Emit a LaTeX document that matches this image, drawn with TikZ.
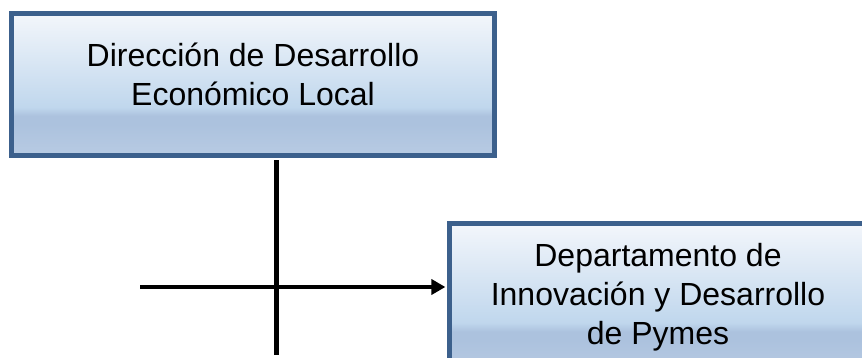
\documentclass[tikz,border=0pt]{standalone}
\usepackage{fontspec}
\setmainfont{Liberation Sans}
\usetikzlibrary{arrows.meta,positioning,calc}
\definecolor{boxborder}{RGB}{60,96,140}
\definecolor{shadetop}{RGB}{243,246,251}
\definecolor{shademid}{RGB}{192,215,237}
\definecolor{shadeband}{RGB}{172,194,222}
\definecolor{shadebottom}{RGB}{184,203,227}
\pgfdeclareverticalshading{orgshade}{100bp}{color(0bp)=(shadebottom); color(25bp)=(shadebottom); color(36bp)=(shadeband); color(39bp)=(shadeband); color(42bp)=(shademid); color(75bp)=(shadetop); color(100bp)=(shadetop)}

\begin{document}
\begin{tikzpicture}[x=0.5pt,y=-0.5pt,
    orgbox/.style={draw=boxborder,line width=2.5pt,shading=orgshade,inner sep=0pt},
    orgtext/.style={align=center,inner sep=0pt,font=\fontsize{16}{19.5}\selectfont},
    link/.style={line width=2.4pt}]
        \useasboundingbox (0,0) rectangle (862,358);
        \clip (0,0) rectangle (862,358);
        \node[orgbox,minimum width=241.5pt,minimum height=71pt] (dir) at (253,84.5) {};
        \node[orgtext,yshift=5.1pt] (dirtext) at (dir.center)
          {Dirección de Desarrollo\\Económico Local};
        \node[orgbox,minimum width=208.5pt,minimum height=75pt] (dep) at (658,298.5) {};
        \node[orgtext,yshift=0.4pt] (deptext) at (dep.center)
          {Departamento de\\Innovación y Desarrollo\\de Pymes};
        \coordinate (vend) at (276.7,355);
        \coordinate (hstart) at (140,287);
        \draw[link,shorten <=1.2pt] (dir.south -| vend) -- (vend);
        \draw[link,-{Triangle[length=7pt,width=7.5pt]},shorten >=0.8pt] (hstart) -- (hstart -| dep.west);
      \end{tikzpicture}
\end{document}
